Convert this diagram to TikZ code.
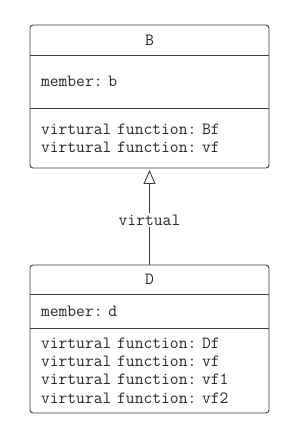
\documentclass[tikz,border=0pt]{standalone}
\usepackage{fontspec}
\usepackage{tikz}
\usetikzlibrary{positioning, arrows.meta, fit, backgrounds}
\newcommand{\umlfont}{\ttfamily\fontsize{17.1}{18.3}\selectfont
  \frenchspacing\spaceskip=\fontcharwd\font`\x\relax}
\definecolor{Cbdr}{RGB}{60,60,60}
\definecolor{Ctxt}{RGB}{40,40,40}
\tikzset{
  ctitle/.style n args={1}{minimum height=#1, text width=217pt,
    inner xsep=11pt, inner ysep=0pt, outer sep=0pt,
    align=center, font=\umlfont, text=Ctxt},
  cpart/.style n args={1}{minimum height=#1, text width=217pt,
    inner xsep=11pt, inner ysep=0pt, outer sep=0pt,
    align=left, font=\umlfont, text=Ctxt},
  frame/.style={draw=Cbdr, rounded corners=3pt, line width=0.9pt,
    inner sep=0pt},
  sep/.style={draw=Cbdr, line width=0.9pt},
  inh/.style={-{Triangle[open, length=14pt, width=12pt]},
    line width=0.9pt, color=Cbdr},
  lbl/.style={font=\umlfont, text=Ctxt, fill=white, inner sep=1.5pt}
}
\begin{document}
\begin{tikzpicture}
\useasboundingbox (0pt,0pt) rectangle (299pt,-441pt);

% ===============================================================
%  class B   (top 25, bottom 168)
% ===============================================================
\node[ctitle={30pt}, anchor=north] (Bname) at (149.5pt,-25pt) {B};
\node[cpart={53pt}, below=0pt of Bname] (Bmem) {member: b};
\node[cpart={60pt}, below=0pt of Bmem] (Bops)
  {virtural function: Bf\\virtural function: vf};

\node[frame, fit=(Bname)(Bmem)(Bops)] (Bbox) {};
\draw[sep] (Bname.south west) -- (Bname.south east);
\draw[sep] (Bmem.south west)  -- (Bmem.south east);

% ===============================================================
%  class D   (top 265, bottom 413)
% ===============================================================
\node[ctitle={29pt}, anchor=north] (Dname) at (149.5pt,-265pt) {D};
\node[cpart={34pt}, below=0pt of Dname] (Dmem) {member: d};
\node[cpart={85pt}, below=0pt of Dmem] (Dops)
  {virtural function: Df\\virtural function: vf\\%
   virtural function: vf1\\virtural function: vf2};

\node[frame, fit=(Dname)(Dmem)(Dops)] (Dbox) {};
\draw[sep] (Dname.south west) -- (Dname.south east);
\draw[sep] (Dmem.south west)  -- (Dmem.south east);

% ===============================================================
%  virtual inheritance D -> B
% ===============================================================
\draw[inh] (Dbox.north) -- ([yshift=-1.5pt]Bbox.south)
  node[lbl, pos=0.47] (Lvirt) {virtual};

\end{tikzpicture}
\end{document}
